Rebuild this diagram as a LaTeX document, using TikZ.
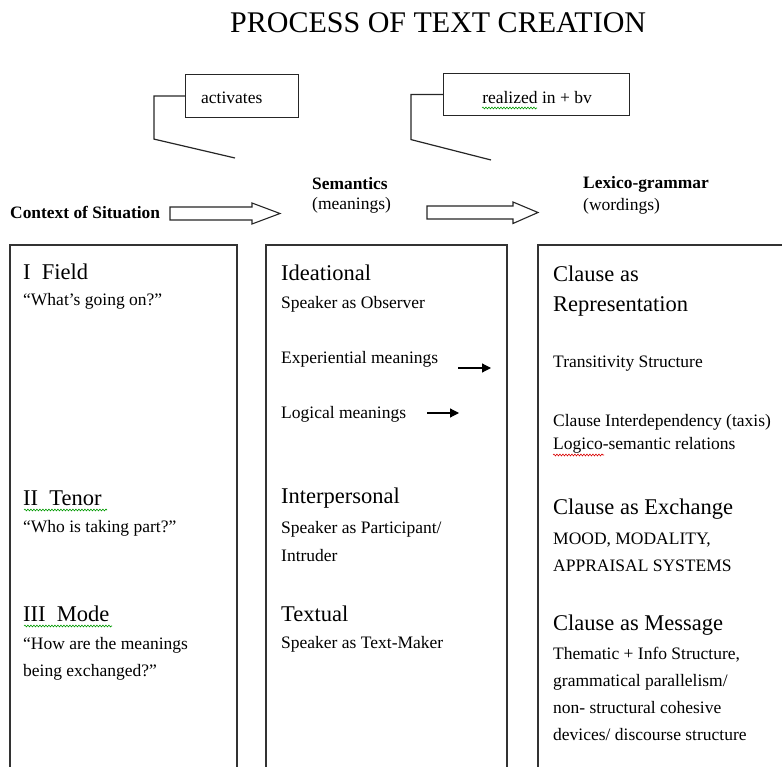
\documentclass[tikz,border=0pt]{standalone}
\usepackage{fontspec}
\setmainfont{Liberation Serif}
\usetikzlibrary{arrows.meta,decorations.pathmorphing}
\begin{document}
\begin{tikzpicture}[x=1pt,y=-1pt,
  txt/.style={anchor=base west, inner sep=0pt, font=\fontsize{17.5}{20}\selectfont},
  hd/.style={anchor=base west, inner sep=0pt, font=\fontsize{22.5}{26}\selectfont},
  lbl/.style={anchor=base west, inner sep=0pt, font=\fontsize{17.4}{20}\selectfont\bfseries},
  frame/.style={draw=black!80, line width=1.3pt},
  callout/.style={draw=black!85, line width=1.2pt},
  hollow/.style={draw=black!85, line width=1.1pt, fill=white, line join=miter},
  smallarrow/.style={line width=1.2pt, -{Triangle[length=9pt,width=9pt]}},
  spell/.style={decorate, decoration={snake, amplitude=0.9pt, segment length=3pt}, line width=0.6pt},
]
\useasboundingbox (0,0) rectangle (782,767);

% title
\node[anchor=base west, inner sep=0pt, font=\fontsize{30}{34}\selectfont] (title) at (230,33) {PROCESS OF TEXT CREATION};

% callouts
\node[callout, anchor=north west, minimum width=113pt, minimum height=43pt, inner sep=0pt] (act) at (185,74) {};
\node[txt] (actT) at (201,104) {activates};
\draw[callout] (act.west) -- ++(-31,0) -- ++(0,43) coordinate (actK) -- (235,158) coordinate (actE);

\node[callout, anchor=north west, minimum width=186pt, minimum height=42pt, inner sep=0pt] (real) at (443,73) {};
\node[txt, anchor=base] (realT) at (537,104) {realized in + bv};
\draw[callout] (real.west) -- ++(-32,0) -- ++(0,45) coordinate (realK) -- (491,160) coordinate (realE);
\draw[spell, draw=green!60!black] (482,108) -- (537,108);

% row labels
\node[lbl] (ctx) at (10,219) {Context of Situation};
\node[lbl] (sem) at (312,190) {Semantics};
\node[txt] (semS) at (312,210) {(meanings)};
\node[lbl] (lex) at (583,189) {Lexico-grammar};
\node[txt] (lexS) at (583,211) {(wordings)};

% hollow arrows
\coordinate (h1) at (170,213.5);
\draw[hollow] (h1) ++(0,-6.5) -- ++(82,0) -- ++(0,-4) -- (280,213.5) -- (252,224) -- ++(0,-4) -- ++(-82,0) -- cycle;
\coordinate (h2) at (427,212.5);
\draw[hollow] (h2) ++(0,-6.5) -- ++(86,0) -- ++(0,-4) -- (538,212.5) -- (513,223.5) -- ++(0,-4.5) -- ++(-86,0) -- cycle;

% column frames
\draw[frame] (10,772) -- (10,245) -- (237,245) -- (237,772);
\draw[frame] (266,772) -- (266,245) -- (507,245) -- (507,772);
\draw[frame] (538,772) -- (538,245) -- (786,245);

% left column
\node[hd] (field) at (23,280) {I~~Field};
\node[txt] (fieldQ) at (23,306) {“What’s going on?”};
\node[hd] (tenor) at (23,505) {II~~Tenor};
\draw[spell, draw=green!60!black] (24,510) -- (107,510);
\node[txt] (tenorQ) at (23,532) {“Who is taking part?”};
\node[hd] (mode) at (23,621) {III~~Mode};
\draw[spell, draw=green!60!black] (24,626) -- (112,626);
\node[txt] (modeQ1) at (23,649) {“How are the meanings};
\node[txt] (modeQ2) at (23,676) {being exchanged?”};

% middle column
\node[hd] (idea) at (281,281) {Ideational};
\node[txt] (obs) at (281,309) {Speaker as Observer};
\node[txt] (exp) at (281,363) {Experiential meanings};
\node[txt] (logi) at (281,418) {Logical meanings};
\coordinate (expA) at (458,368);
\coordinate (expB) at (491,368);
\draw[smallarrow] (expA) -- (expB);
\coordinate (logA) at (427,413);
\coordinate (logB) at (459,413);
\draw[smallarrow] (logA) -- (logB);
\node[hd] (inter) at (281,503) {Interpersonal};
\node[txt] (part) at (281,533) {Speaker as Participant/};
\node[txt] (intr) at (281,561) {Intruder};
\node[hd] (textual) at (281,621) {Textual};
\node[txt] (maker) at (281,648) {Speaker as Text-Maker};

% right column
\node[hd] (cl1) at (553,282) {Clause as};
\node[hd] (rep) at (553,312) {Representation};
\node[txt] (trans) at (553,367) {Transitivity Structure};
\node[txt] (taxis) at (553,426) {Clause Interdependency (taxis)};
\node[txt] (logsem) at (553,449) {Logico-semantic relations};
\draw[spell, draw=red!85!black] (553,455) -- (604,455);
\node[hd] (exch) at (553,514) {Clause as Exchange};
\node[txt] (mood) at (553,544) {MOOD, MODALITY,};
\node[txt] (appr) at (553,571) {APPRAISAL SYSTEMS};
\node[hd] (mess) at (553,630) {Clause as Message};
\node[txt] (them) at (553,659) {Thematic + Info Structure,};
\node[txt] (gram) at (553,686) {grammatical parallelism/};
\node[txt] (nonst) at (553,713) {non- structural cohesive};
\node[txt] (dev) at (553,740) {devices/ discourse structure};
\end{tikzpicture}
\end{document}
